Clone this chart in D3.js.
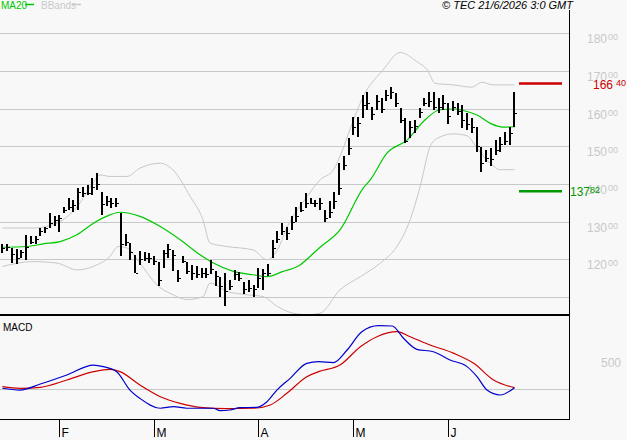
<!DOCTYPE html>
<html>
<head>
<meta charset="utf-8">
<script src="https://cdn.jsdelivr.net/npm/d3@7"></script>
<style>
  html, body { margin: 0; padding: 0; background: #f8f8f8; }
  svg { display: block; }
</style>
</head>
<body>
<svg id="chart" width="627" height="440"></svg>
<script>
// ---- data ----
// daily bars, Jan -> 19 Jun, index 0..108
const highs = [124.1,124.1,123.1,122.8,122.5,126.5,126.1,126.3,128.3,128.7,132.3,131.4,131.8,133.8,136.2,135.8,138.9,139.3,139.8,141.7,
  142.9,138.0,136.7,136.2,136.4,132.3,126.7,124.3,121.2,122.1,121.9,121.6,120.8,119.4,122.5,124.0,122.5,117.2,120.9,119.2,
  118.5,118.1,117.8,117.7,119.9,116.8,115.4,116.3,114.6,117.2,116.6,114.1,114.6,113.2,117.7,117.5,118.7,125.2,127.4,129.6,
  128.7,131.4,134.0,135.3,137.6,136.2,135.8,136.2,133.1,135.4,138.0,145.5,147.3,152.1,157.9,157.9,163.6,164.5,160.5,163.6,
  162.7,164.9,165.8,164.1,160.1,157.4,156.6,157.0,160.1,162.7,164.5,164.5,162.7,163.6,161.4,161.9,161.4,161.0,158.8,157.4,
  155.2,149.9,149.0,149.5,151.7,152.6,153.9,155.2,164.5];
const lows = [121.6,122.3,119.0,118.7,120.3,119.9,123.9,124.3,126.1,127.0,128.3,128.7,127.4,132.3,133.1,132.7,133.1,136.7,137.1,137.1,
  138.5,131.8,134.0,133.6,134.0,120.8,123.4,119.9,116.3,118.5,119.4,119.0,118.5,113.1,117.7,120.3,116.8,114.0,119.0,115.9,
  114.6,115.0,115.2,115.0,116.3,112.8,110.1,107.5,111.9,114.6,114.1,111.0,111.5,110.1,112.4,112.0,115.4,120.3,124.3,126.5,
  125.2,127.8,130.0,132.7,133.6,134.5,134.0,133.1,130.0,130.9,133.6,137.1,143.7,147.7,153.0,152.6,157.4,159.7,157.0,159.7,
  158.8,161.9,162.7,160.5,156.1,150.8,152.1,153.5,157.4,160.5,160.5,159.7,158.8,159.7,155.7,159.2,158.3,154.8,154.3,153.5,
  148.6,143.3,145.9,144.6,147.7,148.6,150.4,150.4,155.2];
const closes = [123.0,123.4,121.4,120.3,121.9,123.4,124.7,125.4,127.4,128.3,129.6,130.5,130.9,133.1,134.0,134.4,138.0,137.5,137.6,139.3,
  140.0,134.6,135.5,134.9,135.0,124.0,124.5,122.0,116.5,120.0,120.4,120.3,119.5,114.5,121.7,122.8,121.2,115.0,119.5,117.0,
  116.5,116.2,116.5,116.0,117.5,115.5,113.0,111.5,113.0,116.0,115.0,112.0,112.5,112.0,115.0,116.5,116.5,123.0,125.5,127.5,
  127.0,130.0,131.5,133.0,135.0,135.0,135.0,135.0,131.0,132.5,135.5,139.0,145.0,149.5,155.0,156.1,161.0,161.5,158.5,162.0,
  160.0,163.5,164.5,161.5,157.0,151.5,155.0,155.5,159.0,161.5,162.0,160.5,160.5,161.5,158.0,160.5,159.5,157.0,156.0,155.0,
  150.0,145.5,147.0,146.5,149.0,150.5,151.5,153.5,158.8];

// month ticks (bar index of first session)
const monthLabels = ["F", "M", "A", "M", "J"];
const monthIdx = [12, 32, 54, 74, 94];

// moving average 20, read at bar positions
const maIdx = [0, 5.2, 8.6, 12.2, 15.7, 19.2, 22.7, 24.8, 29, 33.3, 37.5, 41.7, 44.5, 48.7, 52.9, 55.8, 59.2, 62.8, 65.6, 67, 71.2, 76.1, 77.6, 81.1, 85.4, 88.8, 92.3, 95.5, 97.2, 100.1, 102.9, 105.6, 108];
const maVal = [123.2, 123.4, 124.1, 124.7, 126.5, 129.6, 131.8, 132.5, 131.4, 128.7, 125.2, 121.2, 119.0, 116.8, 115.9, 115.4, 116.8, 118.5, 121.6, 123.2, 127.8, 138.9, 141.1, 148.2, 151.7, 156.6, 159.7, 159.9, 159.5, 158.3, 156.1, 155.1, 155.2];

// Bollinger bands
const upIdx = [0, 6.5, 11.5, 15.8, 19.1, 20.6, 22.7, 26.3, 29, 33.3, 36, 39.6, 42.3, 43.8, 47.4, 52.9, 55.8, 58, 60.1, 64.3, 67, 69.8, 71.6, 73.4, 76.1, 80.3, 83.9, 87.4, 89.6, 91.3, 95.1, 99, 101.1, 103.5, 108];
const upVal = [128.3, 128.3, 129.6, 134.0, 140.2, 142.4, 142.0, 142.0, 144.2, 145.5, 143.7, 136.7, 130.5, 124.3, 123.4, 122.5, 119.9, 122.5, 128.7, 136.7, 141.1, 143.7, 148.6, 154.8, 163.2, 170.3, 174.9, 172.5, 170.3, 166.7, 166.3, 165.7, 167.0, 166.3, 166.3];
const loIdx = [0, 6.5, 11.5, 15.8, 19.1, 22.7, 24.4, 26.3, 29, 32.6, 36, 39, 42.3, 43.8, 47.4, 51.6, 55, 58, 61.3, 64.3, 67, 71.2, 75.5, 79.7, 83.2, 86, 88.1, 90.2, 91.7, 95.1, 98, 100.1, 102.9, 105, 108];
const loVal = [118.1, 119.4, 119.0, 117.2, 118.1, 120.8, 123.4, 123.0, 119.0, 113.2, 110.6, 109.3, 110.1, 113.7, 111.5, 110.6, 110.1, 107.5, 105.7, 105.3, 105.7, 111.9, 115.4, 119.0, 123.4, 130.5, 139.3, 149.9, 152.1, 153.3, 152.8, 149.5, 145.5, 143.8, 143.8];

// MACD and its signal line (hundredths)
const macdIdx = [0, 3.7, 8, 13.6, 19.2, 21.3, 24.1, 26.9, 29, 33.3, 36.1, 38.9, 44.5, 45.9, 48, 50.1, 53.7, 55.8, 57.9, 60.7, 64.2, 66.7, 69.8, 72.7, 75.8, 79.3, 82.2, 84.6, 87.4, 90.9, 94.4, 98, 100.1, 102.2, 105, 108];
const macdVal = [15, -20, 96, 270, 460, 430, 333, -20, -180, -370, -340, -370, -370, -417, -404, -360, -352, -244, -20, 205, 494, 525, 506, 750, 1100, 1217, 1212, 975, 763, 717, 558, 430, 237, -20, -115, 25];
const sigIdx = [0, 3.7, 8, 13.6, 19.2, 22.7, 24.8, 29, 33.3, 37.5, 41.7, 47.3, 53, 56.5, 60, 64.2, 66.7, 71.2, 75.5, 79, 83.2, 86, 90.2, 95.2, 99.4, 103.6, 108];
const sigVal = [44, 13, 33, 173, 333, 378, 333, 77, -148, -275, -352, -378, -370, -307, -83, 237, 333, 460, 813, 1006, 1102, 1006, 846, 686, 494, 173, 25];

// price axis labels, key levels
const priceTicks = [120, 130, 140, 150, 160, 170, 180];
const gridTicks = [110, 120, 130, 140, 150, 160, 170, 180];
const levelValues = [166.40, 137.82];
const macdTicks = [500];

// ---- layout ----
const svg = d3.select("#chart");
const plotRight = 569;
const pTop = 10, pBottom = 315;
const mTop = 316, mBottom = 419;

const x = d3.scaleLinear().domain([-0.5, 119.5]).range([0, plotRight]);
const y = d3.scaleLinear().domain([110, 180]).range([297, 33.3]);
const ym = d3.scaleLinear().domain([0, 500]).range([389, 363]);

svg.append("rect").attr("width", 627).attr("height", 440).attr("fill", "#f8f8f8");

const defs = svg.append("defs");
defs.append("clipPath").attr("id", "clipP").append("rect")
  .attr("x", 0).attr("y", pTop).attr("width", plotRight).attr("height", pBottom - pTop - 1);
defs.append("clipPath").attr("id", "clipM").append("rect")
  .attr("x", 0).attr("y", mTop).attr("width", plotRight).attr("height", mBottom - mTop);

const font = "'Liberation Sans', Arial, sans-serif";

// grid
svg.append("g").selectAll("line").data(gridTicks).join("line")
  .attr("x1", 0).attr("x2", plotRight)
  .attr("y1", d => Math.round(y(d)) + 0.5).attr("y2", d => Math.round(y(d)) + 0.5)
  .attr("stroke", "#c8c8c8").attr("stroke-width", 1);

// price labels: big integer + small raised decimals
const pl = svg.append("g").selectAll("text").data(priceTicks).join("text")
  .attr("x", 587).attr("y", d => Math.round(y(d)) + 10)
  .style("font-family", font).style("font-size", "12px").attr("fill", "#c8c8c8");
pl.append("tspan").text(d => d.toFixed(0));
pl.append("tspan").attr("dx", 1).attr("dy", -3).style("font-size", "9px").text("00");

const pp = svg.append("g").attr("clip-path", "url(#clipP)");

const line = (xs, vs, ys) => d3.line()
  .x((d, i) => x(xs[i])).y((d) => ys(d))
  .curve(d3.curveMonotoneX)(vs);

// bollinger bands
[[upIdx, upVal], [loIdx, loVal]].forEach(([xs, vs]) => {
  pp.append("path").attr("d", line(xs, vs, y))
    .attr("fill", "none").attr("stroke", "#c8c8c8").attr("stroke-width", 1);
});

// MA20
pp.append("path").attr("d", line(maIdx, maVal, y))
  .attr("fill", "none").attr("stroke", "#00c800").attr("stroke-width", 1.2);

// bars
const bars = pp.append("g").attr("shape-rendering", "crispEdges");
bars.selectAll("rect.hl").data(closes).join("rect")
  .attr("class", "hl")
  .attr("x", (d, i) => Math.round(x(i)) - 1)
  .attr("y", (d, i) => Math.round(y(highs[i])))
  .attr("width", 2)
  .attr("height", (d, i) => Math.max(2, Math.round(y(lows[i]) - y(highs[i]))))
  .attr("fill", "#000");
bars.selectAll("rect.cl").data(closes).join("rect")
  .attr("class", "cl")
  .attr("x", (d, i) => Math.round(x(i)) + 1)
  .attr("y", d => Math.round(y(d)))
  .attr("width", 2).attr("height", 1)
  .attr("fill", "#000");

// key levels
const levelColors = ["#cc0000", "#009900"];
svg.append("g").selectAll("line").data(levelValues).join("line")
  .attr("x1", 519).attr("x2", 562)
  .attr("y1", d => y(d) - 1).attr("y2", d => y(d) - 1)
  .attr("stroke", (d, i) => levelColors[i]).attr("stroke-width", 2.5);
const lv = svg.append("g").selectAll("text").data(levelValues).join("text")
  .attr("x", (d, i) => i === 0 ? 593 : 570)
  .attr("y", (d, i) => y(d) + (i === 0 ? 4.5 : 4))
  .style("font-family", font).style("font-size", "12px")
  .attr("fill", (d, i) => levelColors[i]);
lv.append("tspan").text(d => Math.floor(d));
lv.append("tspan").attr("dx", (d, i) => i === 0 ? 3 : 0).attr("dy", -3).style("font-size", "9px")
  .text(d => Math.round((d % 1) * 100));

// panel frame
svg.append("line").attr("x1", plotRight + 0.5).attr("x2", plotRight + 0.5)
  .attr("y1", pTop).attr("y2", mBottom).attr("stroke", "#000");
svg.append("line").attr("x1", 0).attr("x2", plotRight + 1)
  .attr("y1", pBottom).attr("y2", pBottom).attr("stroke", "#000").attr("stroke-width", 2);
svg.append("line").attr("x1", 0).attr("x2", plotRight + 1)
  .attr("y1", mBottom + 0.5).attr("y2", mBottom + 0.5).attr("stroke", "#000");

// MACD panel
svg.append("line").attr("x1", 0).attr("x2", plotRight)
  .attr("y1", Math.round(ym(0)) + 0.5).attr("y2", Math.round(ym(0)) + 0.5)
  .attr("stroke", "#c8c8c8");
const mp = svg.append("g").attr("clip-path", "url(#clipM)");
mp.append("path").attr("d", line(sigIdx, sigVal, ym))
  .attr("fill", "none").attr("stroke", "#cc0000").attr("stroke-width", 1.2);
mp.append("path").attr("d", line(macdIdx, macdVal, ym))
  .attr("fill", "none").attr("stroke", "#0000cc").attr("stroke-width", 1.2);
svg.append("g").selectAll("text").data(macdTicks).join("text")
  .attr("x", 601).attr("y", d => ym(d) + 4)
  .style("font-family", font).style("font-size", "12px").attr("fill", "#c8c8c8")
  .text(d => d);
svg.append("text").attr("x", 3).attr("y", 331)
  .style("font-family", font).style("font-size", "10px").attr("fill", "#000")
  .text("MACD");

// month ticks
const mt = svg.append("g").selectAll("g").data(monthIdx).join("g")
  .attr("transform", d => `translate(${Math.round(x(d)) + 0.5},0)`);
mt.append("line").attr("y1", mBottom).attr("y2", 437).attr("stroke", "#000");
mt.append("text").attr("x", 2).attr("y", 437)
  .style("font-family", font).style("font-size", "12px").attr("fill", "#000")
  .text((d, i) => monthLabels[i]);

// legend
svg.append("text").attr("x", 1).attr("y", 9)
  .style("font-family", font).style("font-size", "10px").attr("fill", "#00c800").text("MA20");
svg.append("line").attr("x1", 25).attr("x2", 34).attr("y1", 4.5).attr("y2", 4.5)
  .attr("stroke", "#00c800").attr("stroke-width", 1.5);
svg.append("text").attr("x", 41).attr("y", 9)
  .style("font-family", font).style("font-size", "10px").attr("fill", "#c8c8c8").text("BBands");
svg.append("line").attr("x1", 72).attr("x2", 81).attr("y1", 4.5).attr("y2", 4.5)
  .attr("stroke", "#c8c8c8").attr("stroke-width", 1.5);

svg.append("text").attr("x", 573).attr("y", 9).attr("text-anchor", "end")
  .style("font-family", font).style("font-size", "11px").style("font-style", "italic")
  .attr("fill", "#000").text("© TEC 21/6/2026 3:0 GMT");
</script>
</body>
</html>
